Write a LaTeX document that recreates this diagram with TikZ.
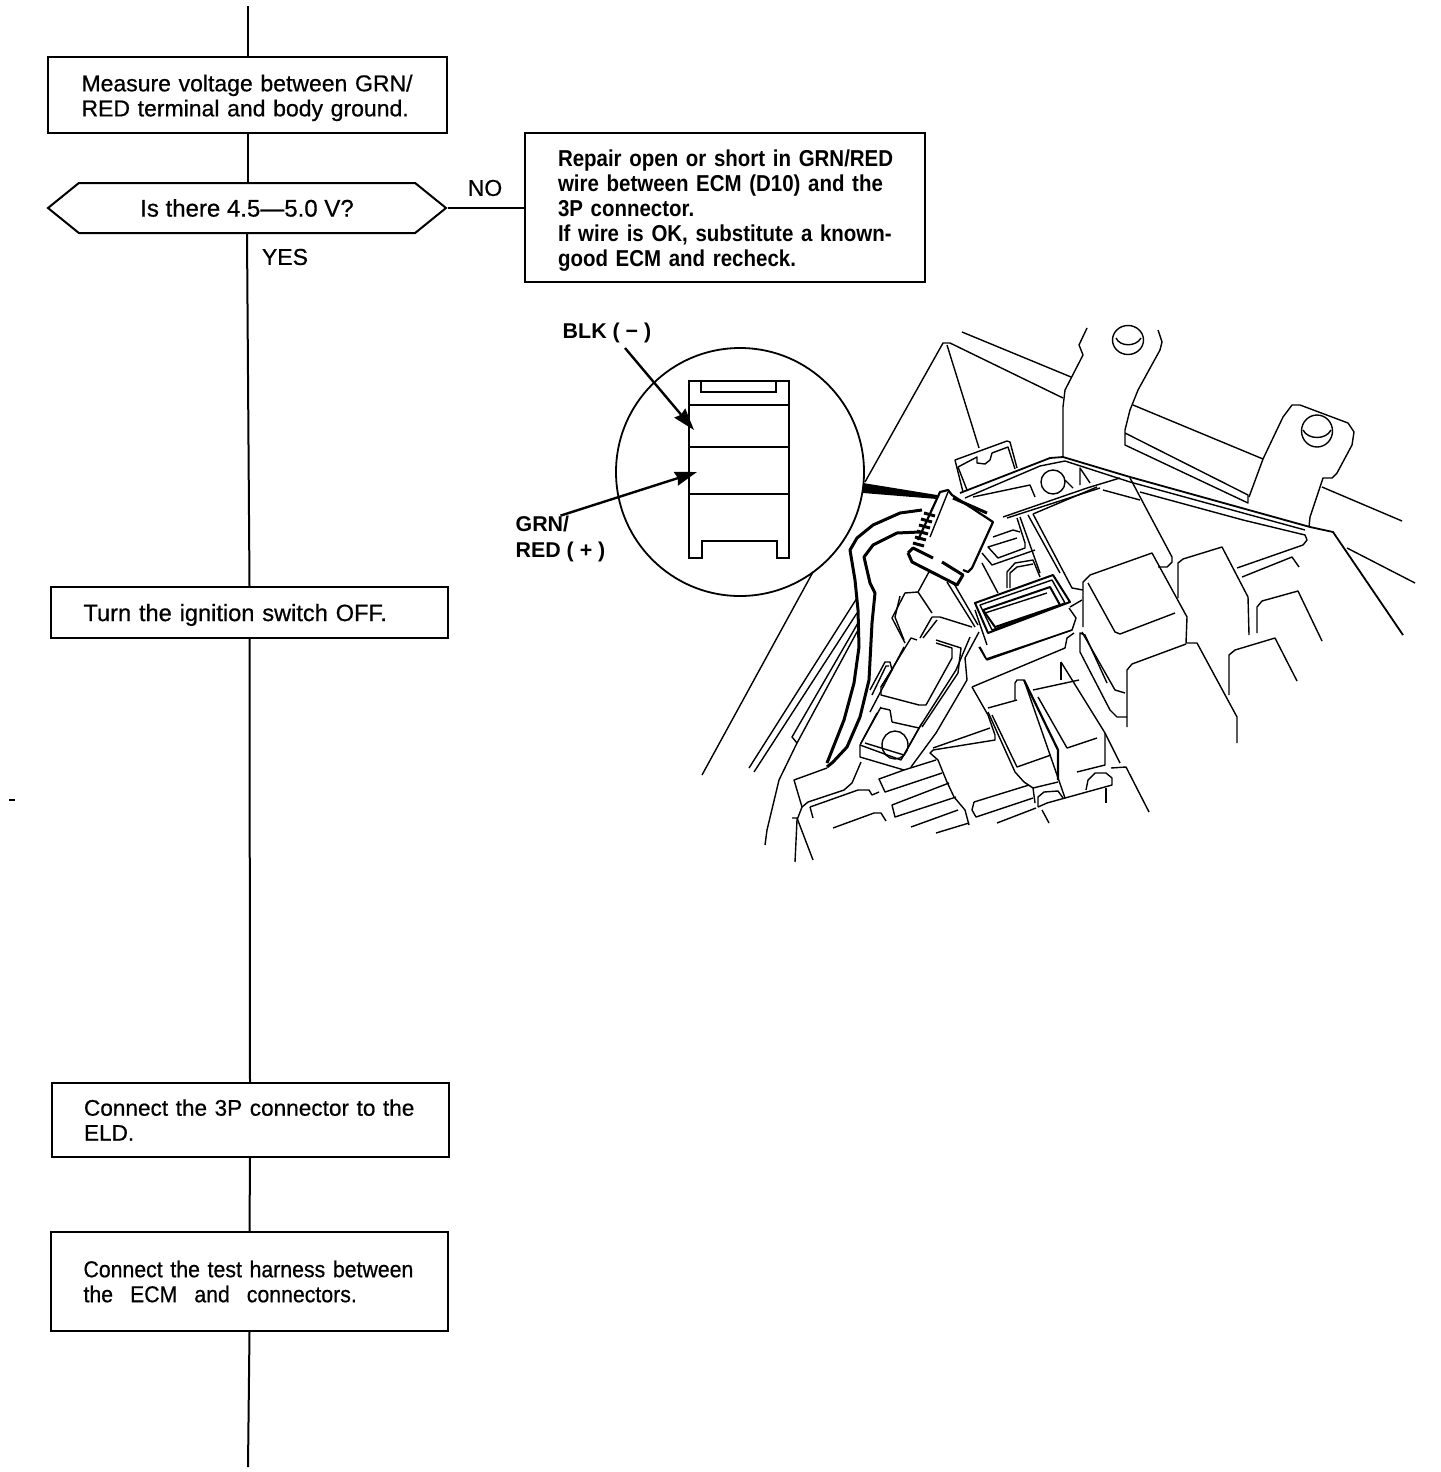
\documentclass[tikz,border=0pt]{standalone}
\usepackage{fontspec}
\setmainfont{Liberation Sans}
\newfontfamily\flowfont[FakeBold=0.6]{Liberation Sans}
\newfontfamily\tightfont[FakeBold=0.6,FakeStretch=0.925]{Liberation Sans}
\newfontfamily\repairfont[FakeStretch=0.89]{Liberation Sans Bold}
\usetikzlibrary{arrows.meta,shapes.symbols}
\begin{document}
\begin{tikzpicture}[x=0.5pt,y=-0.5pt,
    flowline/.style={line width=1pt},
    art/.style={line width=0.7pt,line join=round},
    heavy/.style={line width=1.5pt,line join=round},
    flowbox/.style={draw,line width=1pt,rectangle,text width=166pt,inner xsep=16.25pt,inner ysep=0pt,align=left,
        font=\flowfont\fontsize{11.5}{12.5}\selectfont},
    callout/.style={line width=1.2pt,-{Stealth[length=11pt,width=7pt,inset=1pt]}},
    tag/.style={font=\flowfont\fontsize{11.5}{13}\selectfont,inner sep=0pt},
    partlabel/.style={font=\bfseries\fontsize{10.7}{13}\selectfont,inner sep=0pt,align=left}]
    \path[fill=white,use as bounding box] (0,0) rectangle (1440,1472);

    % Flow chart boxes
    \node[flowbox,text depth=12pt,inner xsep=16.75pt,minimum height=38pt] (measure) at (247.5,95) {Measure voltage between GRN/\\RED terminal and body ground.};
    \node[signal,signal to=west and east,draw,line width=1pt,minimum width=199pt,minimum height=25pt,
        signal pointer angle=78,inner sep=0pt,font=\flowfont\fontsize{12}{13}\selectfont] (voltcheck) at (247,208) {Is there 4.5—5.0 V?};
    \node[flowbox,text depth=49.4pt,font=\repairfont\fontsize{11.5}{12.5}\selectfont,text width=167pt,inner xsep=16.5pt,minimum height=74.5pt] (repair) at (725,207.5)
        {\mbox{Repair open or short in GRN/RED}\\\mbox{wire between ECM (D10) and the}\\3P connector.\\\mbox{If wire is OK, substitute a known-}\\good ECM and recheck.};
    \node[flowbox,text depth=0pt,minimum height=25.5pt,font=\flowfont\fontsize{11.8}{12.5}\selectfont] (ignition) at (249.5,612.5) {Turn the ignition switch OFF.};
    \node[flowbox,minimum height=37pt,font=\flowfont\fontsize{11.3}{12.5}\selectfont] (eld) at (250,1120) {\mbox{Connect the 3P connector to the}\\ELD.};
    \node[flowbox,minimum height=49.5pt,font=\tightfont\fontsize{11.5}{12.5}\selectfont] (harness) at (249.5,1281.5)
        {\mbox{Connect the test harness between}\\the\hspace{8.5pt}ECM\hspace{8.5pt}and\hspace{8.5pt}connectors.};

    % Flow chart lines
    \coordinate (flowtop) at (248,6);
    \coordinate (flowend) at (248,1467);
    \draw[flowline] (flowtop) -- (flowtop |- measure.north);
    \draw[flowline] (measure.south) -- (measure.south |- voltcheck.north);
    \draw[flowline] (voltcheck.south) -- (ignition.north);
    \draw[flowline] (voltcheck.east) -- (repair.west |- voltcheck.east);
    \draw[flowline] (ignition.south) -- (eld.north);
    \draw[flowline] (eld.south) -- (harness.north);
    \draw[flowline] (harness.south) -- (flowend);
    \node[tag] (nolabel) at (485,188) {NO};
    \node[tag] (yeslabel) at (285,257) {YES};
    \draw[flowline] (9,800) -- (15,800);

    % Inset circle and connector face
    \draw[line width=0.9pt] (740,472) circle (124);
    \draw[line width=1.2pt] (689,381) -- (789,381) -- (789,558) -- (777,558) -- (777,541) -- (702,541) -- (702,558) -- (689,558) -- cycle;
    \draw[line width=1pt] (701,382) -- (701,392) -- (776,392) -- (776,382);
    \draw[line width=1.2pt] (689,405) -- (789,405);
    \draw[line width=1.2pt] (689,447) -- (789,447);
    \draw[line width=0.9pt] (689,494) -- (789,494);

    % Labels and pointers
    \node[partlabel] (blk) at (607,333) {BLK ( − )};
    \node[partlabel] (grn) at (560.5,539) {GRN/\\RED ( + )};
    \coordinate (blktail) at (625,348);
    \coordinate (blktip) at (694,430);
    \coordinate (grntip) at (697,472);
    \draw[callout] (blktail) -- (blktip);
    \draw[callout] (grn.north) -- (grntip);

    % Wedge from circle to connector
    \fill (863,483) -- (863,493) -- (937,499) -- (937,495) -- cycle;
    \draw[heavy] (953,498) -- (987,513);

    % Engine bay sheet lines
    \draw[art] (865,482) -- (943,343) -- (950,343) -- (1063,398);
    \draw[art] (813,572) -- (702,775);
    \draw[art] (962,332) -- (1071,377);
    \draw[art] (947,345) -- (979,448);
    \draw[art] (1087,328) -- (1079,345) -- (1083,355) -- (1065,390) -- (1063,407) -- (1063,457);
    \draw[art] (1128,340) ellipse (15.5 and 14.5);
    \draw[art] (1116,338) .. controls (1120,347) and (1136,347) .. (1141,338);
    \draw[art] (1158,330) -- (1162,342) -- (1160,350) -- (1138,390) -- (1130,410) -- (1125,430) -- (1125,445) -- (1248,503) -- (1248,495) -- (1125,433);
    \draw[art] (1133,405) -- (1263,459);
    \draw[art] (1249,497) -- (1263,459) -- (1283,417) -- (1292,405) -- (1300,405) -- (1348,423) -- (1354,432) -- (1352,445) -- (1337,473) -- (1332,478) -- (1323,478) -- (1310,517) -- (1309,527);
    \draw[art] (1317,431) ellipse (15.5 and 16);
    \draw[art] (1303,430) .. controls (1308,440) and (1326,440) .. (1331,430);
    \draw[art] (1322,487) -- (1402,521);
    \draw[art] (1347,548) -- (1415,583);

    % Long band across the top
    \draw[art,line width=0.9pt] (960,493) -- (1050,458) -- (1063,457) -- (1130,477) -- (1310,527) -- (1333,532) -- (1403,635);
    \draw[art] (965,498) -- (1040,466) -- (1065,461) -- (1130,482) -- (1305,530);
    \draw[art] (1140,492) -- (1243,520) -- (1305,535) -- (1307,540) -- (1303,545) -- (1237,568);
    \draw[art] (1242,577) -- (1292,557) -- (1299,567);

    % Relay blocks to the right
    \draw[art] (1130,478) -- (1172,557) -- (1172,562) -- (1167,567) -- (1158,567);
    \draw[art] (1083,627) -- (1083,582) -- (1090,575) -- (1152,553) -- (1187,617) -- (1186,643) -- (1197,643) -- (1237,717) -- (1237,743);
    \draw[art] (1088,583) -- (1115,632) -- (1120,634) -- (1175,613);
    \draw[art] (1178,598) -- (1178,563) -- (1183,559) -- (1222,547) -- (1248,597) -- (1249,635);
    \draw[art] (1257,633) -- (1257,607) -- (1262,601) -- (1298,591) -- (1322,641);
    \draw[art] (1229,695) -- (1229,655) -- (1235,650) -- (1275,638) -- (1297,681);
    \draw[art] (1127,727) -- (1127,670) -- (1132,664) -- (1186,644);
    \draw[art] (1080,652) -- (1080,633) -- (1085,635) -- (1107,683);
    \draw[art] (1082,632) -- (1115,690) -- (1125,693);
    \draw[art] (1080,652) -- (1110,710) -- (1117,717) -- (1127,717);
    \draw[art] (1061,662) -- (1105,733) -- (1120,763);
    \draw[art] (1105,733) -- (1105,765) -- (1077,772);
    \draw[art] (1111,768) -- (1126,767) -- (1149,812);
    \draw[art] (1086,790) -- (1088,780) -- (1095,773) -- (1106,773) -- (1112,778) -- (1112,785) -- (1047,803) -- (1038,807);
    \draw[art] (1106,788) -- (1106,803);

    % Fuse blocks in the middle
    \draw[art] (1061,662) -- (1061,680);
    \draw[art] (1033,690) -- (1079,680);
    \draw[art] (1038,697) -- (1067,748) -- (1097,738);
    \draw[art] (992,715) -- (1017,767) -- (1051,755);
    \draw[art] (988,712) -- (1015,772) -- (1024,782) -- (1033,788) -- (1035,803);
    \draw[heavy,line width=1.1pt] (1024,680) -- (1058,750) -- (1058,780);
    \draw[art] (1015,700) -- (1015,683) -- (1017,680) -- (1024,680) -- (1065,798);
    \draw[art] (988,708) -- (1017,700);
    \draw[art] (972,687) -- (1065,648) -- (1067,638) -- (1074,633);
    \draw[art] (972,687) -- (988,715) -- (995,735) -- (995,740) -- (933,750) -- (930,753) -- (938,760) -- (942,770) -- (947,782) -- (954,797) -- (965,810) -- (969,825);
    \draw[art] (933,748) -- (990,728);
    \draw[art] (979,647) -- (986,659) -- (1072,630) -- (1076,618) -- (1069,608);
    \draw[art] (1038,807) -- (1038,797) -- (1044,792) -- (1058,791) -- (1063,798);
    \draw[art] (1033,788) -- (1058,782);
    \draw[art] (974,802) -- (1029,785);
    \draw[art] (974,802) -- (972,810) -- (976,817) -- (1033,798);
    \draw[art] (997,823) -- (1036,808);
    \draw[art] (1042,810) -- (1049,823);

    % Bottom row of fuses
    \draw[art] (860,745) -- (860,757) -- (904,770) -- (936,760);
    \draw[art] (861,762) -- (852,783) -- (844,790) -- (808,802) -- (802,807);
    \draw[art] (802,807) -- (794,780) -- (827,768);
    \draw[art] (810,807) -- (858,790) -- (869,790) -- (872,795) -- (879,792);
    \draw[art] (810,807) -- (813,818);
    \draw[art] (904,770) -- (879,779) -- (885,792) -- (942,773);
    \draw[art] (949,783) -- (892,805) -- (895,817) -- (956,797);
    \draw[art] (911,827) -- (958,810);
    \draw[art] (936,833) -- (969,823);
    \draw[art] (833,828) -- (874,813) -- (881,813) -- (886,821);
    \draw[art] (792,818) -- (797,818) -- (813,860);
    \draw[art] (797,820) -- (795,862);
    \draw[art] (765,845) -- (767,830) -- (779,780) -- (797,743) -- (792,737) -- (858,623);
    \draw[art] (797,743) -- (858,630);
    \draw[art] (802,807) -- (797,820);
    \draw[art] (749,768) -- (857,598);
    \draw[art] (754,772) -- (857,613);

    % Harness wires
    \draw[heavy] (922,510) -- (900,513) -- (873,525) -- (857,538) -- (850,550) -- (855,580) -- (858,610) -- (859,647) -- (854,683) -- (844,720) -- (827,763);
    \draw[heavy] (920,532) -- (897,533) -- (873,545) -- (864,557) -- (870,583) -- (875,593) -- (872,623) -- (869,680) -- (860,717) -- (847,747) -- (833,762) -- (827,767);

    % Test connector body
    \draw[heavy,line width=1.1pt] (918,540) -- (940,492) -- (948,490) -- (952,495) -- (993,522) -- (972,568) -- (968,572) -- (963,570);
    \draw[art] (948,492) -- (930,537);
    \draw[heavy] (924,513) -- (935,516) (921,519) -- (932,522) (919,525) -- (930,528) (917,531) -- (928,534) (915,537) -- (926,540) (913,543) -- (924,546);
    \draw[heavy] (908,553) -- (913,548) -- (933,558);
    \draw[heavy] (908,553) -- (912,562) -- (957,585) -- (963,575) -- (942,562);

    % Clip at the top
    \draw[art] (963,492) -- (955,460) -- (1007,441) -- (1010,442) -- (1017,468);
    \draw[art] (967,490) -- (958,467) -- (977,457) -- (977,463) -- (985,464) -- (990,460) -- (992,453) -- (1008,447) -- (1015,469);

    % Bolt and lower band
    \draw[art] (1053,482) circle (12);
    \draw[art] (973,497) -- (1030,485) -- (1035,497);
    \draw[art] (1065,480) -- (1073,488);
    \draw[art] (1080,485) -- (1080,468) -- (1090,483);
    \draw[art] (1003,517) -- (1087,488) -- (1120,478);
    \draw[art] (1007,518) -- (1100,488);
    \draw[art] (1103,490) -- (1140,500);
    \draw[art] (1033,514) -- (1097,487);
    \draw[art] (1020,517) -- (1040,573);
    \draw[art] (1028,515) -- (1060,573);
    \draw[art] (1033,514) -- (1072,588) -- (1083,590);
    \draw[art] (1017,518) -- (1025,543) -- (1025,548) -- (998,558) -- (988,547) -- (1017,538);
    \draw[art] (993,537) -- (1013,530) -- (1020,532);
    \draw[art] (982,553) -- (992,565) -- (1035,550);
    \draw[art] (1007,588) -- (1007,572) -- (1015,563) -- (1033,560) -- (1040,577);
    \draw[art] (1010,588) -- (1010,573) -- (1017,567) -- (1033,564);
    \draw[art] (982,563) -- (998,593);

    % Multi pin connector
    \draw[heavy,line width=1pt] (975,603) -- (1053,575) -- (1070,602) -- (988,633) -- cycle;
    \draw[art] (980,605) -- (1052,580) -- (1065,603) -- (992,630) -- cycle;
    \draw[heavy,line width=1pt] (983,610) -- (1050,587) -- (1060,605) -- (995,627) -- cycle;
    \draw[art] (985,613) -- (1047,593);
    \draw[art] (975,610) -- (987,645);
    \draw[art] (980,647) -- (987,660) -- (1072,630);
    \draw[art] (1070,607) -- (1082,600);

    % Plug on the left
    \draw[art] (930,570) -- (918,592) -- (905,593) -- (892,618) -- (905,643);
    \draw[art] (918,592) -- (932,613);
    \draw[art] (900,596) -- (895,617) -- (904,640);
    \draw[art] (947,582) -- (975,627);
    \draw[art] (953,582) -- (978,625);
    \draw[art] (932,617) -- (940,617) -- (972,627);
    \draw[art] (920,638) -- (932,617);
    \draw[art] (923,638) -- (937,620);
    \draw[art] (917,640) -- (911,638) -- (881,687) -- (881,695) -- (919,705) -- (926,705) -- (952,658) -- (952,648) -- (936,643);
    \draw[art] (936,640) -- (961,648) -- (958,673) -- (922,727);
    \draw[art] (979,632) -- (965,658) -- (967,680) -- (936,733) -- (911,767);
    \draw[art] (970,637) -- (956,670) -- (919,728) -- (901,760) -- (860,745);
    \draw[art] (922,723) -- (904,755) -- (865,743);
    \draw[art] (892,722) -- (919,728);
    \draw[art] (890,710) -- (892,722);
    \draw[art] (881,708) -- (890,710);
    \draw[art] (881,707) -- (860,745);
    \draw[art] (877,713) -- (861,743);
    \draw[art] (895,745) ellipse (13 and 14);
    \draw[art] (870,690) -- (885,662) -- (890,662) -- (892,670) -- (881,687);
    \draw[art] (872,695) -- (886,666) -- (889,666);
    \draw[art] (904,647) -- (870,712);
\end{tikzpicture}
\end{document}
